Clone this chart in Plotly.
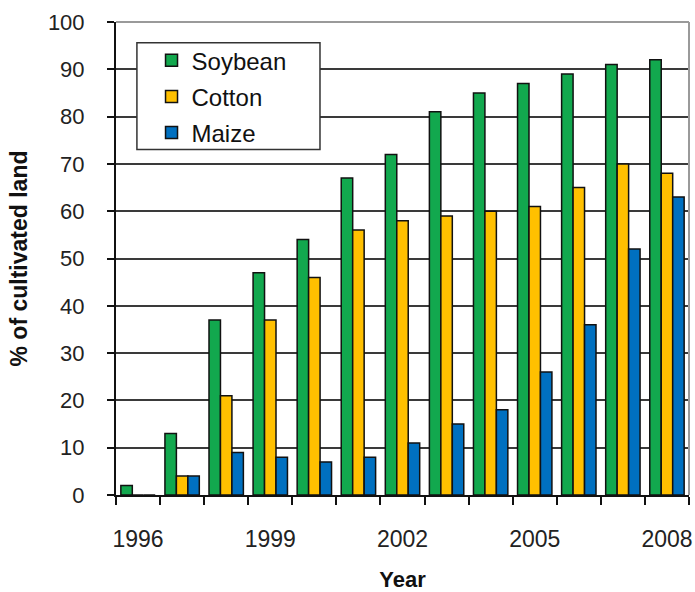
import plotly.graph_objects as go

# Share of cultivated land planted with GM varieties, by crop and year
years = [1996, 1997, 1998, 1999, 2000, 2001, 2002, 2003, 2004, 2005, 2006, 2007, 2008]
soybean = [2, 13, 37, 47, 54, 67, 72, 81, 85, 87, 89, 91, 92]
cotton = [0, 4, 21, 37, 46, 56, 58, 59, 60, 61, 65, 70, 68]
maize = [0, 4, 9, 8, 7, 8, 11, 15, 18, 26, 36, 52, 63]

labelled_years = [1996, 1999, 2002, 2005, 2008]
y_ticks = list(range(0, 101, 10))

series = [
    ("Soybean", soybean, "#12A84E"),
    ("Cotton", cotton, "#FFC000"),
    ("Maize", maize, "#0070C0"),
]

FONT = "Liberation Sans, Arial, sans-serif"

fig = go.Figure()
for name, values, color in series:
    fig.add_trace(go.Bar(
        x=years, y=values, name=name, legendgroup=name,
        marker=dict(color=color, line=dict(color="#111111", width=1.5)),
    ))

# group boundaries for the small x-axis ticks
boundaries = [y - 0.5 for y in years] + [years[-1] + 0.5]

fig.update_layout(
    width=695, height=592,
    margin=dict(l=116, r=3, t=22, b=95),
    paper_bgcolor="white", plot_bgcolor="white",
    barmode="group", bargap=0.22, bargroupgap=0,
    font=dict(family=FONT, color="#222222"),
    showlegend=True,
    legend=dict(
        x=0.062, y=0.966, xanchor="left", yanchor="top",
        bgcolor="rgba(0,0,0,0)", borderwidth=0,
        font=dict(size=24, color="#111111"),
        tracegroupgap=2,
    ),
    xaxis=dict(
        range=[years[0] - 0.5, years[-1] + 0.5],
        tickmode="array", tickvals=labelled_years,
        ticks="outside", ticklen=22, tickcolor="rgba(0,0,0,0)",
        tickfont=dict(size=23, color="#222222"),
        ticklabeloverflow="allow",
        showgrid=False, zeroline=False,
        showline=True, linecolor="#111111", linewidth=2,
        minor=dict(tickmode="array", tickvals=boundaries, ticks="outside",
                   ticklen=8, tickcolor="#111111", tickwidth=1.5, showgrid=False),
        title=dict(text="<b>Year</b>", font=dict(size=22, color="#111111"), standoff=22),
    ),
    yaxis=dict(
        range=[0, 100], tickmode="array", tickvals=y_ticks,
        ticks="outside", ticklen=7, tickcolor="#111111", tickwidth=1.5,
        tickfont=dict(size=22, color="#222222"), ticklabelstandoff=18,
        showgrid=True, gridcolor="#3a3a3a", gridwidth=1.5,
        zeroline=False,
        showline=True, linecolor="#111111", linewidth=2,
        title=dict(text="<b>% of cultivated land</b>", font=dict(size=23, color="#111111"), standoff=14),
    ),
)

# light frame on the top and right sides of the plot area
fig.add_shape(type="line", xref="paper", yref="paper", x0=0, x1=1, y0=1, y1=1,
              line=dict(color="#9a9a9a", width=2), layer="above")
fig.add_shape(type="line", xref="paper", yref="paper", x0=1, x1=1, y0=0, y1=1,
              line=dict(color="#9a9a9a", width=2), layer="above")

# legend frame
fig.add_shape(type="rect", xref="paper", yref="paper",
              x0=0.0365, x1=0.356, y0=0.7305, y1=0.956,
              line=dict(color="#333333", width=1.5), fillcolor="white", layer="above",
              opacity=1)

fig.write_html("out.html")
